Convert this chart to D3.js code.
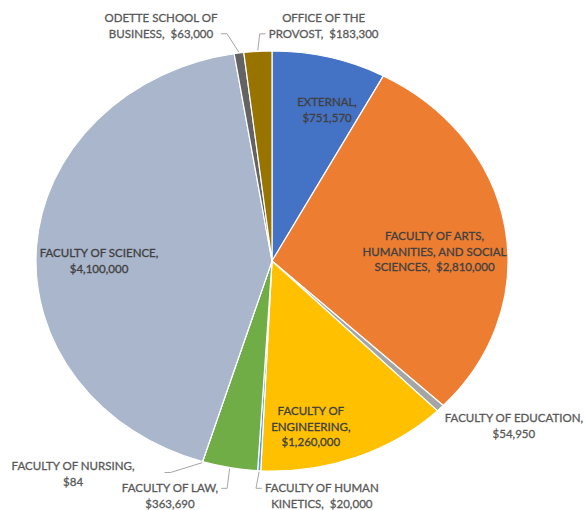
<!DOCTYPE html>
<html lang="en">
<head>
    <meta charset="UTF-8">
    <script src="https://cdn.jsdelivr.net/npm/d3@7"></script>
    <title>Funding by unit</title>
    <style>
        body { margin: 0; background: #fff; }
        text { font-family: Lato, "Open Sans", sans-serif; font-size: 11.5px; white-space: pre; }
    </style>
</head>
<body>
<script>
    // slices, clockwise from 12 o'clock
    var categories = ["EXTERNAL", "FACULTY OF ARTS, HUMANITIES, AND SOCIAL SCIENCES", "FACULTY OF EDUCATION",
        "FACULTY OF ENGINEERING", "FACULTY OF HUMAN KINETICS", "FACULTY OF LAW", "FACULTY OF NURSING",
        "FACULTY OF SCIENCE", "ODETTE SCHOOL OF BUSINESS", "OFFICE OF THE PROVOST"];
    var values = [751570, 2810000, 54950, 1260000, 20000, 363690, 84, 4100000, 63000, 183300];
    var colors = ["#4472C4", "#ED7D31", "#A5A5A5", "#FFC000", "#5B9BD5", "#70AD47", "#264478",
        "#AAB6CB", "#636363", "#997300"];
    var labelLines = [
        ["EXTERNAL,", "$751,570"],
        ["FACULTY OF ARTS,", "HUMANITIES, AND SOCIAL", "SCIENCES,  $2,810,000"],
        ["FACULTY OF EDUCATION,", "$54,950"],
        ["FACULTY OF", "ENGINEERING,", "$1,260,000"],
        ["FACULTY OF HUMAN", "KINETICS,  $20,000"],
        ["FACULTY OF LAW,", "$363,690"],
        ["FACULTY OF NURSING,", "$84"],
        ["FACULTY OF SCIENCE,", "$4,100,000"],
        ["ODETTE SCHOOL OF", "BUSINESS,  $63,000"],
        ["OFFICE OF THE", "PROVOST,  $183,300"]
    ];

    // label placement: angle shift (deg) from slice middle, radius as fraction of pie radius
    var labelPlace = [
        {da: 3.9, r: 0.756, inside: true},
        {da: 5.5, r: 0.69, inside: true},
        {da: -7, r: 1.292},
        {da: 9.1, r: 0.807, inside: true},
        {da: -13.8, r: 1.139, leader: "left", line: 0},
        {da: 10.8, r: 1.2, leader: "right", line: 0},
        {da: 22.6, r: 1.319, leader: "right", line: 0.4, gap: 30},
        {da: -3.95, r: 0.733, inside: true},
        {da: -14.75, r: 1.214, leader: "right", line: 1},
        {da: 14.5, r: 1.14, leader: "left", line: 1}
    ];

    var width = 586, height = 510;
    var cx = 272, cy = 261, rx = 236, ry = 210;
    var lineH = 15.5;

    var svg = d3.select("body").append("svg")
        .attr("width", width)
        .attr("height", height);

    var g = svg.append("g")
        .attr("transform", "translate(" + cx + "," + cy + ")");

    var pie = d3.pie().sort(null).value(function(d){ return d; });
    var arcs = pie(values);

    var arc = d3.arc().innerRadius(0).outerRadius(ry);

    // the picture is a little wider than tall, so stretch the pie
    g.append("g")
        .attr("transform", "scale(" + (rx / ry) + ",1)")
        .selectAll("path")
        .data(arcs)
        .enter()
        .append("path")
        .attr("d", arc)
        .attr("fill", function(d, i){ return colors[i]; })
        .attr("stroke", "#fff")
        .attr("stroke-width", 1.2)
        .attr("vector-effect", "non-scaling-stroke");

    function pt(a, r) {
        return [rx * r * Math.sin(a), -ry * r * Math.cos(a)];
    }

    var labels = g.selectAll("text.lbl")
        .data(arcs)
        .enter()
        .append("text")
        .attr("class", "lbl")
        .attr("text-anchor", "middle")
        .attr("fill", function(d, i){ return labelPlace[i].inside ? "#404040" : "#595959"; })
        .attr("stroke", function(d, i){ return labelPlace[i].inside ? "#404040" : "#595959"; })
        .attr("stroke-width", 0.3)
        .each(function(d, i){
            var p = labelPlace[i];
            var mid = (d.startAngle + d.endAngle) / 2 + p.da * Math.PI / 180;
            var c = pt(mid, p.r);
            var lines = labelLines[i];
            var y0 = c[1] - (lines.length - 1) * lineH / 2;
            d3.select(this).selectAll("tspan")
                .data(lines)
                .enter()
                .append("tspan")
                .attr("x", c[0])
                .attr("y", function(l, j){ return y0 + j * lineH; })
                .attr("dy", "0.35em")
                .text(function(l){ return l; });
            d.lblY0 = y0;
        });

    // leader lines for the small slices
    labels.each(function(d, i){
        var p = labelPlace[i];
        if (!p.leader) return;
        var bb = this.getBBox();
        var gap = p.gap || 3;
        var y = d.lblY0 + p.line * lineH;
        var x = p.leader == "right" ? bb.x + bb.width + gap : bb.x - gap;
        var mid = (d.startAngle + d.endAngle) / 2;
        var t = pt(mid, 1.005);
        var ex = p.leader == "right" ? x + 6 : x - 6;
        g.append("path")
            .attr("d", "M" + x + "," + y + "L" + ex + "," + y + "L" + t[0] + "," + t[1])
            .attr("fill", "none")
            .attr("stroke", "#A6A6A6")
            .attr("stroke-width", 1);
    });
</script>
</body>
</html>
